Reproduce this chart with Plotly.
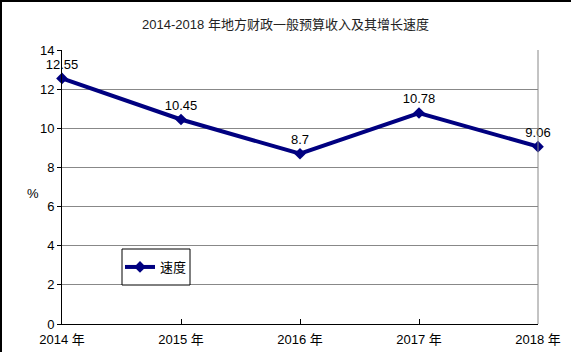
import plotly.graph_objects as go

categories = ["2014 年", "2015 年", "2016 年", "2017 年", "2018 年"]
speed = [12.55, 10.45, 8.7, 10.78, 9.06]
speed_labels = ["12.55", "10.45", "8.7", "10.78", "9.06"]
y_ticks = [0, 2, 4, 6, 8, 10, 12, 14]

FONT = "Liberation Sans, Arial, Noto Sans CJK SC, sans-serif"
PW, PH = 476, 274  # plot area size in px

fig = go.Figure()
fig.add_trace(go.Scatter(
    x=categories, y=speed, mode="lines+markers+text", name="速度",
    text=speed_labels, textposition="top center",
    textfont=dict(size=13, color="#000000", family=FONT),
    line=dict(color="#000080", width=4),
    marker=dict(symbol="diamond", size=9, color="#000080"),
    cliponaxis=False,
))

fig.update_layout(
    width=571, height=352,
    margin=dict(l=62, r=33, t=50, b=28, autoexpand=False),
    paper_bgcolor="white", plot_bgcolor="white",
    font=dict(family=FONT, size=13, color="#000000"),
    title=dict(text="2014-2018 年地方财政一般预算收入及其增长速度", x=0.5, xanchor="center",
               y=1 - 24 / 352, yanchor="middle", font=dict(size=13, color="#222222")),
    showlegend=True,
    legend=dict(x=(120 - 62) / PW, y=(324 - 267) / PH, xanchor="left", yanchor="middle",
                borderwidth=0, bgcolor="rgba(0,0,0,0)",
                font=dict(size=13), itemwidth=30),
    xaxis=dict(type="category", range=[0, 4], showgrid=False, showline=True,
               linecolor="#000000", linewidth=1, ticks="inside", ticklen=5,
               tickcolor="#000000", mirror=False, tickfont=dict(size=13),
               ticklabelstandoff=3, automargin=False),
    yaxis=dict(range=[0, 14], tickvals=y_ticks, showgrid=True, gridcolor="#888888",
               gridwidth=1, showline=True, linecolor="#000000", linewidth=1,
               ticks="outside", ticklen=4, tickcolor="#000000", zeroline=False,
               tickfont=dict(size=13), automargin=False),
    annotations=[dict(text="%", xref="paper", yref="paper", x=(25 - 62) / PW,
                      y=(324 - 193) / PH, showarrow=False, font=dict(size=13))],
    shapes=[
        dict(type="rect", xref="paper", yref="paper", x0=(122 - 62) / PW, x1=(190 - 62) / PW,
             y0=(324 - 285) / PH, y1=(324 - 249) / PH, fillcolor="white",
             line=dict(color="#000000", width=1), layer="above"),
        dict(type="line", xref="paper", yref="paper", x0=1, x1=1, y0=0, y1=1,
             line=dict(color="#888888", width=1)),
        dict(type="line", xref="paper", yref="paper", x0=-62 / PW, x1=1 + 40 / PW,
             y0=1 + 49 / PH, y1=1 + 49 / PH, line=dict(color="#000000", width=2)),
        dict(type="line", xref="paper", yref="paper", x0=-61 / PW, x1=-61 / PW,
             y0=-30 / PH, y1=1 + 50 / PH, line=dict(color="#000000", width=2)),
    ],
)

fig.write_html("out.html")
